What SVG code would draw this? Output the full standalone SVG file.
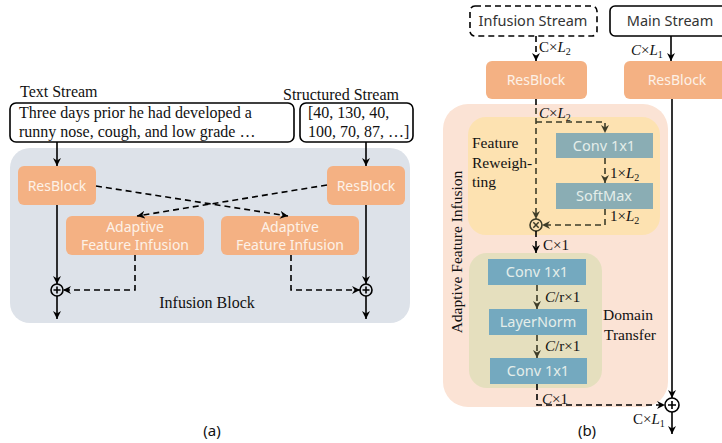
<svg xmlns="http://www.w3.org/2000/svg" width="722" height="443" viewBox="0 0 722 443">
  <style>
    .serif { font-family: "Liberation Serif", "Times New Roman", serif; fill: #111; }
    .sans { font-family: "Noto Sans", "Open Sans", sans-serif; }
    .math { font-family: "Liberation Serif", "DejaVu Serif", serif; font-size: 15px; fill: #111; }
    .math .it { font-style: italic; }
    .sub { font-size: 10px; }
    .res { fill: #F4B183; }
    .restext { font-family: "Noto Sans", "Open Sans", sans-serif; font-size: 14px; fill: #FDF1E8; text-anchor: middle; }
    .ln { fill: none; stroke: #000; stroke-width: 1.6; }
    .dash { fill: none; stroke: #000; stroke-width: 1.6; stroke-dasharray: 6 4; }
    .odash { fill: none; stroke: #3D3C28; stroke-width: 1.6; stroke-dasharray: 6 4; }
    .teal1 { fill: #8AADB4; }
    .teal2 { fill: #74A9BF; }
    .boxtext { font-family: "Noto Sans", "Open Sans", sans-serif; font-size: 14.5px; fill: #E4EEEA; text-anchor: middle; }
  </style>
  <defs>
    <marker id="arr" markerUnits="userSpaceOnUse" markerWidth="10" markerHeight="10" refX="8" refY="4" orient="auto">
      <path d="M0,0 L8,4 L0,8 L2.5,4 z" fill="#000"/>
    </marker>
    <marker id="arrO" markerUnits="userSpaceOnUse" markerWidth="10" markerHeight="10" refX="8" refY="4" orient="auto">
      <path d="M0,0 L8,4 L0,8 L2.5,4 z" fill="#3D3C28"/>
    </marker>
  </defs>

  <!-- ===== (a) Infusion block ===== -->
  <g id="infusion-block">
    <rect x="10" y="148" width="400" height="175" rx="20" fill="#DDE2E9"/>
    <text class="serif" x="207" y="308" font-size="16" text-anchor="middle">Infusion Block</text>
  </g>

  <g id="text-stream">
    <text class="serif" x="20" y="97" font-size="16">Text Stream</text>
    <rect x="10" y="103" width="284" height="39" rx="6" fill="#fff" stroke="#000" stroke-width="1.6"/>
    <text class="serif" x="19" y="118" font-size="16">Three days prior he had developed a</text>
    <text class="serif" x="19" y="137" font-size="16">runny nose, cough, and low grade  …</text>
  </g>

  <g id="structured-stream">
    <text class="serif" x="283" y="100" font-size="16">Structured Stream</text>
    <rect x="300" y="103" width="113" height="39" rx="6" fill="#fff" stroke="#000" stroke-width="1.6"/>
    <text class="serif" x="308" y="118" font-size="16">[40, 130, 40,</text>
    <text class="serif" x="308" y="137" font-size="16">100, 70, 87, …]</text>
  </g>

  <g id="resblock-text">
    <rect class="res" x="18" y="166" width="78" height="39" rx="6"/>
    <text class="restext" x="57" y="191">ResBlock</text>
  </g>
  <g id="resblock-struct">
    <rect class="res" x="327" y="166" width="78" height="39" rx="6"/>
    <text class="restext" x="366" y="191">ResBlock</text>
  </g>
  <g id="afi-left">
    <rect class="res" x="66" y="216" width="138" height="39" rx="6"/>
    <text class="restext" x="135" y="232">Adaptive</text>
    <text class="restext" x="135" y="250">Feature Infusion</text>
  </g>
  <g id="afi-right">
    <rect class="res" x="221" y="216" width="138" height="39" rx="6"/>
    <text class="restext" x="290" y="232">Adaptive</text>
    <text class="restext" x="290" y="250">Feature Infusion</text>
  </g>
  <g id="sum-left">
    <circle cx="57" cy="290" r="6" fill="none" stroke="#000" stroke-width="1.6"/>
    <path d="M53.5,290 H60.5 M57,286.5 V293.5" stroke="#000" stroke-width="1.6"/>
  </g>
  <g id="sum-right">
    <circle cx="366" cy="290" r="6" fill="none" stroke="#000" stroke-width="1.6"/>
    <path d="M362.5,290 H369.5 M366,286.5 V293.5" stroke="#000" stroke-width="1.6"/>
  </g>

  <g id="connectors-a">
    <line class="ln" x1="57" y1="142" x2="57" y2="166" marker-end="url(#arr)"/>
    <line class="ln" x1="57" y1="205" x2="57" y2="284" marker-end="url(#arr)"/>
    <line class="ln" x1="57" y1="296" x2="57" y2="319" marker-end="url(#arr)"/>
    <line class="ln" x1="366" y1="142" x2="366" y2="166" marker-end="url(#arr)"/>
    <line class="ln" x1="366" y1="205" x2="366" y2="284" marker-end="url(#arr)"/>
    <line class="ln" x1="366" y1="296" x2="366" y2="319" marker-end="url(#arr)"/>
    <path class="dash" d="M96,186 L288,216" marker-end="url(#arr)"/>
    <path class="dash" d="M327,185 L137,216" marker-end="url(#arr)"/>
    <path class="dash" d="M135,255 V290 H63" marker-end="url(#arr)"/>
    <path class="dash" d="M291,255 V290 H360" marker-end="url(#arr)"/>
  </g>

  <text class="sans" x="212" y="436" font-size="15" text-anchor="middle" fill="#111">(a)</text>

  <!-- ===== (b) Adaptive feature infusion ===== -->
  <g id="infusion-stream">
    <rect x="470" y="6" width="127" height="30" rx="5" fill="#fff" stroke="#000" stroke-width="1.6" stroke-dasharray="6 4"/>
    <text class="sans" x="533" y="26" font-size="14.5" text-anchor="middle" fill="#333">Infusion Stream</text>
  </g>
  <g id="main-stream">
    <rect x="610" y="6" width="124" height="30" rx="5" fill="#fff" stroke="#000" stroke-width="1.6"/>
    <text class="sans" x="670" y="26" font-size="14.5" text-anchor="middle" fill="#333">Main Stream</text>
  </g>
  <g id="resblock-infusion">
    <rect class="res" x="486" y="61" width="101" height="38" rx="6"/>
    <text class="restext" x="536" y="85">ResBlock</text>
  </g>
  <g id="resblock-main">
    <rect class="res" x="624" y="61" width="110" height="38" rx="6"/>
    <text class="restext" x="677" y="85">ResBlock</text>
  </g>

  <g id="afi-module">
    <rect x="443" y="104" width="225" height="303" rx="25" fill="#FBE3D5"/>
    <text class="serif" font-size="15.5" text-anchor="middle" transform="translate(462,252) rotate(-90)">Adaptive Feature Infusion</text>
  </g>

  <g id="feature-reweighting">
    <rect x="468" y="117" width="192" height="118" rx="18" fill="#FDE2B1"/>
    <text class="serif" x="472" y="148" font-size="15.5">Feature</text>
    <text class="serif" x="472" y="168" font-size="15.5">Reweigh-</text>
    <text class="serif" x="472" y="187" font-size="15.5">ting</text>
  </g>
  <g id="conv-reweight">
    <rect class="teal1" x="556" y="133" width="97" height="25"/>
    <text class="boxtext" x="604" y="151">Conv 1x1</text>
  </g>
  <g id="softmax">
    <rect class="teal1" x="556" y="183" width="97" height="26"/>
    <text class="boxtext" x="604" y="201">SoftMax</text>
  </g>
  <g id="multiply">
    <circle cx="536" cy="225" r="6" fill="none" stroke="#3D3C28" stroke-width="1.6"/>
    <path d="M533.3,222.3 L538.7,227.7 M538.7,222.3 L533.3,227.7" stroke="#3D3C28" stroke-width="1.5"/>
  </g>

  <g id="domain-transfer">
    <rect x="469" y="253" width="133" height="135" rx="18" fill="#E5DFBE"/>
    <text class="serif" x="603" y="320" font-size="15.5">Domain</text>
    <text class="serif" x="604" y="340" font-size="15.5">Transfer</text>
  </g>
  <g id="conv-down">
    <rect class="teal2" x="488" y="259" width="98" height="26"/>
    <text class="boxtext" x="537" y="277">Conv 1x1</text>
  </g>
  <g id="layernorm">
    <rect class="teal2" x="489" y="309" width="98" height="26"/>
    <text class="boxtext" x="538" y="327">LayerNorm</text>
  </g>
  <g id="conv-up">
    <rect class="teal2" x="490" y="358" width="97" height="26"/>
    <text class="boxtext" x="538" y="376">Conv 1x1</text>
  </g>

  <g id="sum-main">
    <circle cx="672" cy="405" r="7" fill="#fff" stroke="#000" stroke-width="1.6"/>
    <path d="M668,405 H676 M672,401 V409" stroke="#000" stroke-width="1.6"/>
  </g>

  <g id="connectors-b">
    <line class="dash" x1="536" y1="36" x2="536" y2="61" marker-end="url(#arr)"/>
    <line class="ln" x1="671" y1="36" x2="671" y2="61" marker-end="url(#arr)"/>
    <line class="dash" x1="536" y1="99" x2="536" y2="106"/>
    <path class="odash" d="M536,108 V219" marker-end="url(#arrO)"/>
    <path class="odash" d="M536,122 H605 V133" marker-end="url(#arrO)"/>
    <line class="odash" x1="605" y1="158" x2="605" y2="183" marker-end="url(#arrO)"/>
    <path class="odash" d="M605,209 V225 H542" marker-end="url(#arrO)"/>
    <line class="dash" x1="536" y1="231" x2="536" y2="253" marker-end="url(#arr)"/>
    <line class="odash" x1="537" y1="285" x2="537" y2="309" marker-end="url(#arrO)"/>
    <line class="odash" x1="537" y1="335" x2="537" y2="358" marker-end="url(#arrO)"/>
    <path class="dash" d="M537,384 V405 H665" marker-end="url(#arr)"/>
    <line class="ln" x1="672" y1="99" x2="672" y2="398" marker-end="url(#arr)"/>
    <line class="ln" x1="672" y1="412" x2="672" y2="434" marker-end="url(#arr)"/>
  </g>

  <g id="dim-labels">
    <text class="math" x="539" y="52"><tspan>C×</tspan><tspan class="it">L</tspan><tspan class="sub" dy="3">2</tspan></text>
    <text class="math" x="631" y="55"><tspan class="it">C</tspan><tspan>×</tspan><tspan class="it">L</tspan><tspan class="sub" dy="3">1</tspan></text>
    <text class="math" x="539" y="118"><tspan class="it">C</tspan><tspan>×</tspan><tspan class="it">L</tspan><tspan class="sub" dy="3">2</tspan></text>
    <text class="math" x="610" y="178"><tspan>1×</tspan><tspan class="it">L</tspan><tspan class="sub" dy="3">2</tspan></text>
    <text class="math" x="610" y="221"><tspan>1×</tspan><tspan class="it">L</tspan><tspan class="sub" dy="3">2</tspan></text>
    <text class="math" x="543" y="250">C×1</text>
    <text class="math" x="545" y="302"><tspan class="it">C</tspan><tspan>/r×1</tspan></text>
    <text class="math" x="545" y="351"><tspan class="it">C</tspan><tspan>/r×1</tspan></text>
    <text class="math" x="542" y="404"><tspan class="it">C</tspan><tspan>×1</tspan></text>
    <text class="math" x="633" y="424"><tspan>C×</tspan><tspan class="it">L</tspan><tspan class="sub" dy="3">1</tspan></text>
  </g>

  <text class="sans" x="587" y="436" font-size="15" text-anchor="middle" fill="#111">(b)</text>
</svg>
